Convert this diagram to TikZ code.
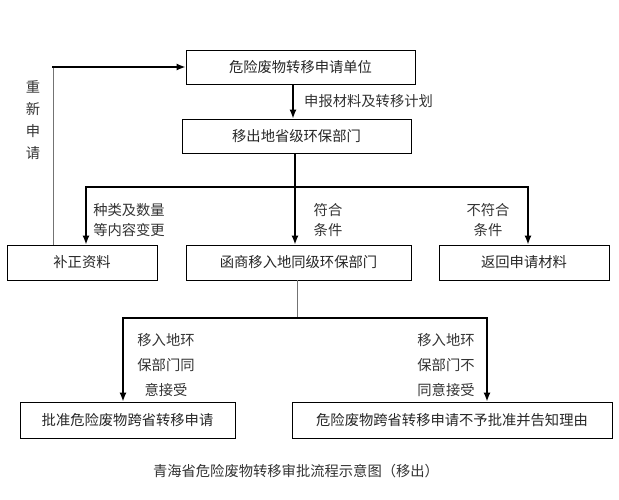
\documentclass[tikz,border=0pt]{standalone}
\usepackage{fontspec}
\setmainfont{Noto Sans CJK SC}
\usetikzlibrary{arrows.meta}

\def\txtsize{14.3pt}

\tikzset{
  box/.style={draw, line width=0.9pt, minimum height=35pt, inner sep=0pt,
    font=\fontsize{\txtsize}{16pt}\selectfont, text=black!85},
  arr/.style={-{Latex[length=9pt,width=7pt]}, line width=1.4pt},
  trunk/.style={line width=1.4pt},
  thinline/.style={line width=0.7pt, black!55},
  lbl/.style={align=center, inner sep=0pt, text=black!80,
    font=\fontsize{\txtsize}{20pt}\selectfont},
  lbltall/.style={lbl, font=\fontsize{\txtsize}{25pt}\selectfont}
}

\begin{document}
\begin{tikzpicture}[x=1pt, y=-1pt]
        \useasboundingbox (0,0) rectangle (619,500);
        % top boxes
        \node[box, minimum width=229pt, minimum height=34pt] (unit) at (300.5,67) {危险废物转移申请单位};
        \node[box, minimum width=229pt, minimum height=34pt] (out) at (296.5,136) {移出地省级环保部门};
        \draw[arr] (unit.south -| 293,0) -- (out.north -| 293,0);
        \node[lbl, anchor=west] (plan) at (304,101) {申报材料及转移计划};
        % middle row
        \node[box, minimum width=150pt] (fix) at (82,262.5) {补正资料};
        \node[box, minimum width=225pt] (deal) at (298.5,262.5) {函商移入地同级环保部门};
        \node[box, minimum width=170pt] (back) at (524,262.5) {返回申请材料};
        % split into three
        \coordinate (split) at (295,187);
        \draw[trunk] (out.south -| split) -- (split);
        \draw[arr] (split) -| ([xshift=4pt]fix.north);
        \draw[arr] (split) -- (deal.north -| split);
        \draw[arr] (split) -| ([xshift=4pt]back.north);
        \node[lbl] (change) at (129,220) {种类及数量\\等内容变更};
        \node[lbl] (ok) at (328,220) {符合\\条件};
        \node[lbl] (notok) at (488,220) {不符合\\条件};
        % resubmit loop
        \coordinate (corner) at (53,67);
        \draw[thinline] ([xshift=-29pt]fix.north) -- (corner);
        \draw[arr] ([xshift=-0.7pt]corner) -- (unit.west);
        \node[lbl, font=\fontsize{\txtsize}{22pt}\selectfont] (again) at (33,120) {重\\新\\申\\请};
        % bottom boxes
        \node[box, minimum width=215pt, minimum height=36pt] (yes) at (127.5,420) {批准危险废物跨省转移申请};
        \node[box, minimum width=320pt, minimum height=36pt] (no) at (452,420) {危险废物跨省转移申请不予批准并告知理由};
        \coordinate (split2) at (297,318);
        \draw[thinline] (deal.south -| split2) -- (split2);
        \draw[arr] (split2) -| ([xshift=-4.5pt]yes.north);
        \draw[arr] (split2) -| ([xshift=35pt]no.north);
        \node[lbltall] (agree) at (166,365) {移入地环\\保部门同\\意接受};
        \node[lbltall] (refuse) at (446,365) {移入地环\\保部门不\\同意接受};
        % caption
        \node[lbl] (title) at (296,471) {青海省危险废物转移审批流程示意图（移出）};
    \end{tikzpicture}
\end{document}
